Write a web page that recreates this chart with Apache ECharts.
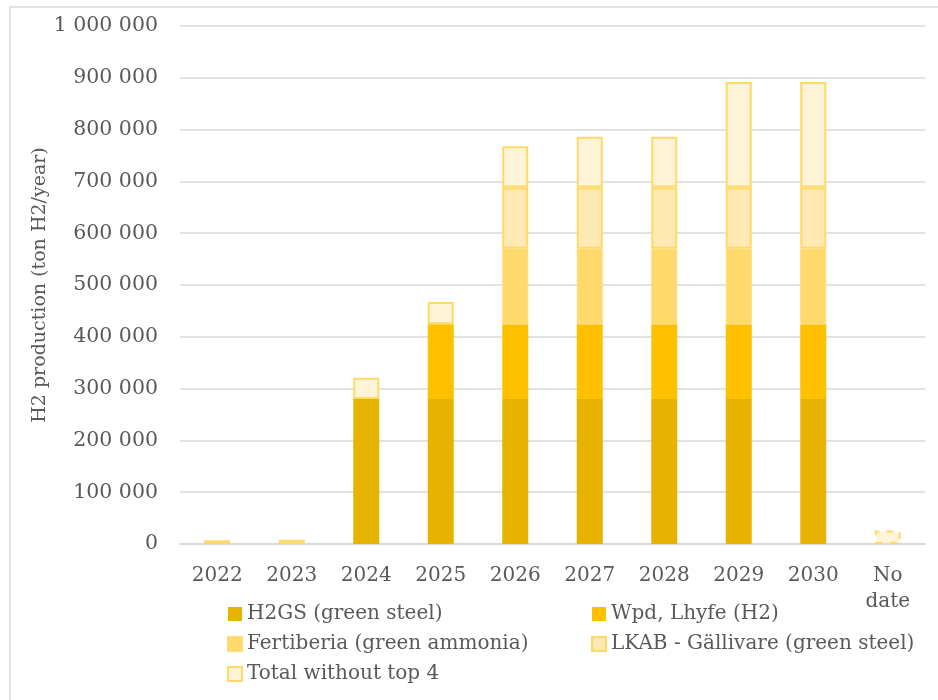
<!DOCTYPE html>
<html>
<head>
<meta charset="utf-8">
<script src="https://cdn.jsdelivr.net/npm/echarts@6/dist/echarts.min.js"></script>
<style>
html,body{margin:0;padding:0;background:#fff;}
#c{width:938px;height:700px;}
</style>
</head>
<body>
<div id="c"></div>
<script>
const categories = ['2022','2023','2024','2025','2026','2027','2028','2029','2030','No\ndate'];
const h2gs       = [null, null, 280000, 280000, 280000, 280000, 280000, 280000, 280000, null];
const wpdLhyfe   = [null, null, null, 144000, 144000, 144000, 144000, 144000, 144000, null];
const fertiberia = [null, null, null, null, 146000, 146000, 146000, 146000, 146000, null];
const lkab       = [null, null, null, null, 118000, 118000, 118000, 118000, 118000, null];
const totalRest  = [7000, 8000, 41000, 43000, 80000, 98000, 98000, 204000, 204000, 26000];
const yTicks = [0, 100000, 200000, 300000, 400000, 500000, 600000, 700000, 800000, 900000, 1000000];
const seriesNames = ['H2GS (green steel)', 'Wpd, Lhyfe (H2)', 'Fertiberia (green ammonia)', 'LKAB - Gällivare (green steel)', 'Total without top 4'];

const FONT = 'DejaVu Serif';
const TXT = '#595959';

function fmt(v){
  return String(v).replace(/\B(?=(\d{3})+(?!\d))/g, ' ');
}

const chart = echarts.init(document.getElementById('c'), null, {renderer:'canvas'});

const totalData = totalRest.map((v, i) => {
  if (categories[i] === 'No\ndate') {
    return {value: v, itemStyle: {borderType: [7, 7]}};
  }
  return v;
});

const legendText = {fontFamily: FONT, fontSize: 20, color: TXT, lineHeight: 20};

chart.setOption({
  animation: false,
  backgroundColor: '#fff',
  graphic: [{
    type: 'rect',
    shape: {x: 10, y: 7, width: 1000, height: 800},
    style: {fill: 'none', stroke: '#D9D9D9', lineWidth: 1.5},
    silent: true
  }],
  grid: {left: 180, right: 13, top: 26, bottom: 156, containLabel: false, outerBoundsMode: 'none'},
  legend: [
    {
      data: [seriesNames[0], seriesNames[2], seriesNames[4]],
      orient: 'vertical', left: 222, top: 599,
      itemWidth: 14, itemHeight: 14, itemGap: 10,
      icon: 'rect',
      textStyle: legendText,
      selectedMode: false
    },
    {
      data: [seriesNames[1], seriesNames[3]],
      orient: 'vertical', left: 586, top: 599,
      itemWidth: 14, itemHeight: 14, itemGap: 10,
      icon: 'rect',
      textStyle: legendText,
      selectedMode: false
    }
  ],
  xAxis: {
    type: 'category',
    data: categories,
    axisTick: {show: false},
    axisLine: {lineStyle: {color: '#D9D9D9', width: 2}},
    axisLabel: {fontFamily: FONT, fontSize: 20, color: TXT, margin: 19, lineHeight: 26, interval: 0}
  },
  yAxis: {
    type: 'value',
    min: yTicks[0],
    max: yTicks[yTicks.length - 1],
    interval: yTicks[1] - yTicks[0],
    name: 'H2 production (ton H2/year)',
    nameLocation: 'middle',
    nameGap: 130,
    nameMoveOverlap: false,
    nameTextStyle: {fontFamily: FONT, fontSize: 19, color: TXT},
    axisLine: {show: false},
    axisTick: {show: false},
    splitLine: {lineStyle: {color: '#D9D9D9', width: 1.5}},
    axisLabel: {fontFamily: FONT, fontSize: 20.5, color: TXT, margin: 22, formatter: fmt}
  },
  series: [
    {name: seriesNames[0], type: 'bar', stack: 'a', barWidth: 26, data: h2gs,
     itemStyle: {color: '#E8B200'}},
    {name: seriesNames[1], type: 'bar', stack: 'a', barWidth: 26, data: wpdLhyfe,
     itemStyle: {color: '#FFC000'}},
    {name: seriesNames[2], type: 'bar', stack: 'a', barWidth: 26, data: fertiberia,
     itemStyle: {color: '#FFD96B', borderColor: '#FFDB73', borderWidth: 1}},
    {name: seriesNames[3], type: 'bar', stack: 'a', barWidth: 26, data: lkab,
     itemStyle: {color: '#FFE9B3', borderColor: '#FFD966', borderWidth: 2}},
    {name: seriesNames[4], type: 'bar', stack: 'a', barWidth: 26, data: totalData,
     itemStyle: {color: '#FFF4D8', borderColor: '#FFD966', borderWidth: 2}}
  ]
});
</script>
</body>
</html>
